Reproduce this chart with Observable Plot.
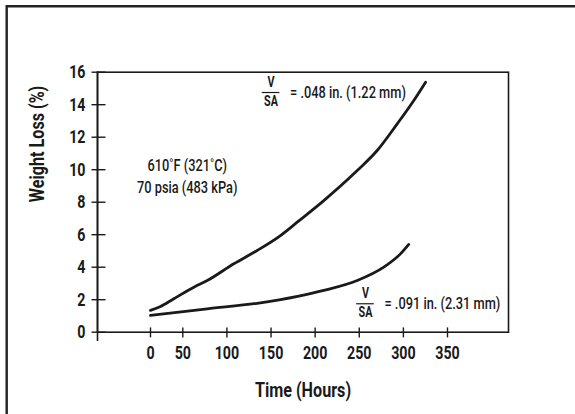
<!DOCTYPE html>
<html>
<head>
<meta charset="utf-8">
<script src="https://cdn.jsdelivr.net/npm/d3@7"></script>
<script src="https://cdn.jsdelivr.net/npm/@observablehq/plot@0.6"></script>
<style>
  html, body { margin: 0; padding: 0; background: #fff; overflow: hidden; width: 575px; height: 414px; }
  #wrap { position: relative; width: 575px; height: 414px; }
  #edges { position: absolute; left: 0; top: 0; pointer-events: none; }
  #wrap > svg { display: block; }
  #wrap svg text { fill: #1a1a1a; }
</style>
</head>
<body>
<div id="wrap">
  <svg id="edges" width="575" height="414"><path d="M6.7,414V6.2H575" fill="none" stroke="#222" stroke-width="2.4"/></svg>
</div>
<script>
// ---- data ----
const xTicks = [0, 50, 100, 150, 200, 250, 300, 350];
const yTicks = [0, 2, 4, 6, 8, 10, 12, 14, 16];

// V/SA = .048 in. (1.22 mm)
const thinHours = [0, 15.5, 36.1, 62.5, 77.7, 107.8, 134.3, 160.7, 181.5, 209.8, 247.7, 270.3, 293, 311.8, 325.1];
const thinLoss  = [1.34, 1.58, 2.06, 2.77, 3.18, 4.21, 5.03, 5.95, 6.85, 8.10, 9.95, 11.18, 12.82, 14.26, 15.38];

// V/SA = .091 in. (2.31 mm)
const thickHours = [0, 77.7, 134.3, 181.5, 209.8, 247.7, 277.8, 296.7, 306.1];
const thickLoss  = [1.03, 1.44, 1.78, 2.22, 2.57, 3.18, 4.0, 4.82, 5.40];

const conditionText = "610˚F (321˚C)\n70 psia (483 kPa)";
const conditionAt = [55, 9.7];

const fracLabels = ["= .048 in. (1.22 mm)", "= .091 in. (2.31 mm)"];
const fracHours = [150, 257];
const fracLoss = [14.75, 1.75];

const xTitle = "Time (Hours)";
const yTitle = "Weight Loss (%)";

// ---- build ----
const thin = thinHours.map((h, i) => ({h, v: thinLoss[i]}));
const thick = thickHours.map((h, i) => ({h, v: thickLoss[i]}));
const fracs = fracLabels.map((t, i) => ({t, x: fracHours[i], y: fracLoss[i]}));

const font = "Roboto, 'DejaVu Sans', sans-serif";
const ink = "#1a1a1a";

const chart = Plot.plot({
  width: 575,
  height: 414,
  marginLeft: 97,
  marginRight: 67,
  marginTop: 71.7,
  marginBottom: 82.3,
  style: {fontFamily: font, fontSize: "18px", fontWeight: 700, color: ink, background: "transparent"},
  x: {type: "linear", domain: [0, 50, 350], range: [150, 182.3, 447]},
  y: {domain: [0, 16]},
  marks: [
    Plot.frame({stroke: ink, strokeWidth: 1.6}),
    Plot.frame({anchor: "left", stroke: ink, strokeWidth: 1.6, insetBottom: -8}),
    // tick lines (crossing the axes)
    Plot.axisX({ticks: xTicks, tickSize: 10, dy: -4.3, fill: "none", stroke: ink, strokeWidth: 1.4, label: null}),
    Plot.axisY({ticks: yTicks, tickSize: 14, dx: 8.5, fill: "none", stroke: ink, strokeWidth: 1.4, label: null}),
    // tick labels
    Plot.axisX({ticks: xTicks, tickSize: 0, tickPadding: 14, fontSize: 18.5, label: null}),
    Plot.axisY({ticks: yTicks, tickSize: 0, tickPadding: 12, fontSize: 18.5, label: null}),
    // axis titles
    Plot.text([xTitle], {frameAnchor: "bottom", dy: 65, fontSize: 21, text: d => d}),
    Plot.text([yTitle], {frameAnchor: "left", dx: -60, rotate: -90, fontSize: 21, text: d => d}),
    // curves
    Plot.line(thin, {x: "h", y: "v", stroke: ink, strokeWidth: 2.8, curve: "monotone-x"}),
    Plot.line(thick, {x: "h", y: "v", stroke: ink, strokeWidth: 2.8, curve: "monotone-x"}),
    // condition annotation
    Plot.text([conditionText], {x: () => conditionAt[0], y: () => conditionAt[1], text: d => d, fontSize: 16, fontWeight: 500, lineHeight: 1.37}),
    // V/SA fractions
    Plot.text(fracs, {x: "x", y: "y", text: () => "V", dy: -10, fontSize: 14}),
    Plot.text(fracs, {x: "x", y: "y", text: () => "SA", dy: 9, fontSize: 14}),
    Plot.ruleY(fracs, {y: "y", x1: d => d.x - 10, x2: d => d.x + 10, stroke: ink, strokeWidth: 1.2}),
    Plot.text(fracs, {x: "x", y: "y", text: "t", dx: 19, textAnchor: "start", fontSize: 16, fontWeight: 500})
  ]
});

document.getElementById("wrap").prepend(chart);

// condensed look: narrow every label horizontally (text stays real text)
d3.select(chart).selectAll("text").each(function() {
  const w = +getComputedStyle(this).fontWeight;
  const narrow = w >= 700 ? 0.77 : 0.8;
  const spans = this.querySelectorAll("tspan");
  const targets = spans.length ? Array.from(spans) : [this];
  for (const el of targets) {
    const len = el.getComputedTextLength();
    if (len > 0) {
      el.setAttribute("textLength", (len * narrow).toFixed(2));
      el.setAttribute("lengthAdjust", "spacingAndGlyphs");
    }
  }
});
</script>
</body>
</html>
